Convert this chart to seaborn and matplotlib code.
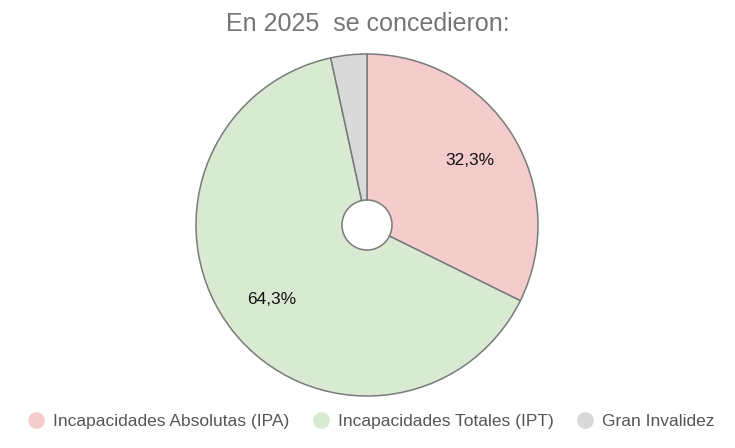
import matplotlib
matplotlib.use('Agg')
import matplotlib.pyplot as plt
from matplotlib.lines import Line2D
import seaborn as sns

categorias = ['Incapacidades Absolutas (IPA)', 'Incapacidades Totales (IPT)', 'Gran Invalidez']
valores = [32.3, 64.3, 3.4]
colores = ['#f4cccc', '#d9ead3', '#d9d9d9']
titulo = 'En 2025  se concedieron:'

sns.set_theme(style='white')
plt.rcParams['font.family'] = ['Liberation Sans', 'DejaVu Sans']

fig = plt.figure(figsize=(7.35, 4.48), dpi=100)
# pie centred at about (367, 225) px with radius ~171 px
ax = fig.add_axes([(367 - 171) / 735, (448 - 225 - 171) / 448, 342 / 735, 342 / 448])


def etiqueta(p):
    if p < 5:
        return ''
    return f'{p:.1f}%'.replace('.', ',')


wedges, textos, autotextos = ax.pie(
    valores, colors=colores, startangle=90, counterclock=False,
    autopct=etiqueta, pctdistance=0.71, radius=1.0,
    wedgeprops=dict(width=1 - 25 / 171, edgecolor='#7a7a7a', linewidth=1.1),
    textprops=dict(fontsize=12.5, color='#111111'))
ax.set_xlim(-1, 1)
ax.set_ylim(-1, 1)
ax.set_aspect('equal')

fig.text(368 / 735, 1 - 24 / 448, titulo, ha='center', va='center',
         fontsize=18, color='#757575')

handles = [Line2D([0], [0], marker='o', linestyle='', markersize=11,
                  markerfacecolor=c, markeredgecolor=c) for c in colores]
fig.legend(handles, categorias, loc='center', bbox_to_anchor=(370 / 735, 1 - 421 / 448),
           ncol=3, frameon=False, fontsize=12.5, labelcolor='#555555',
           handletextpad=0.4, columnspacing=1.2, handlelength=1.2)

fig.savefig('out.png', dpi=100)
